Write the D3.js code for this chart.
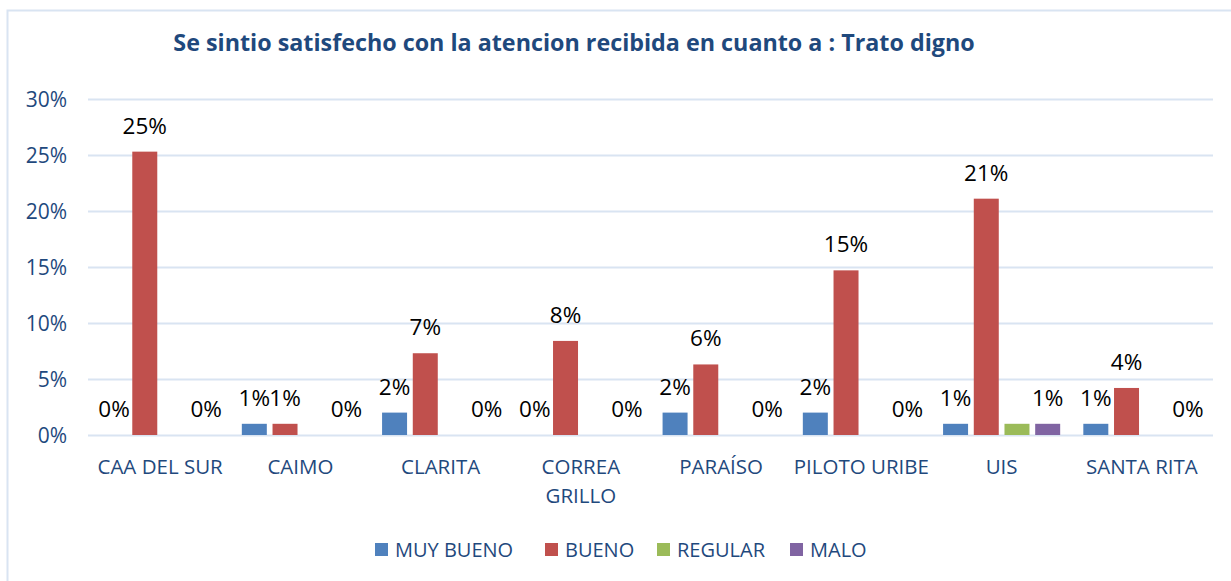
<!DOCTYPE html>
<html lang="es">
<head>
    <meta charset="UTF-8">
    <title>Trato digno</title>
    <script src="https://d3js.org/d3.v7.min.js"></script>
    <style>
        body { margin: 0; background: #fff; }
        text { font-family: "Open Sans", "Noto Sans", sans-serif; }
    </style>
</head>
<body>
<div id="chart"></div>
<script>
    // data (percent)
    const categories = ["CAA DEL SUR", "CAIMO", "CLARITA", "CORREA GRILLO", "PARAÍSO", "PILOTO URIBE", "UIS", "SANTA RITA"];
    const series = ["MUY BUENO", "BUENO", "REGULAR", "MALO"];
    const muyBueno = [0, 1.0, 2.0, 0, 2.0, 2.0, 1.0, 1.0];
    const bueno = [25.3, 1.0, 7.3, 8.4, 6.3, 14.7, 21.1, 4.2];
    const regular = [null, null, null, null, null, null, 1.0, null];
    const malo = [0, 0, 0, 0, 0, 0, 1.0, 0];
    const yTicks = [0, 5, 10, 15, 20, 25, 30];
    // REGULAR has no data labels in the original
    const labelled = ["MUY BUENO", "BUENO", "MALO"];

    const values = [muyBueno, bueno, regular, malo];
    const colors = ["#4F81BD", "#C0504D", "#9BBB59", "#8064A2"];
    const axisBlue = "#1F497D";

    const width = 1231, height = 581;
    const plot = {left: 90, right: 1212, top: 99, bottom: 435};

    const svg = d3.select("#chart").append("svg")
        .attr("width", width)
        .attr("height", height);

    // chart frame
    svg.append("rect")
        .attr("x", 7.5).attr("y", 10.5)
        .attr("width", 1240).attr("height", 600)
        .attr("fill", "none")
        .attr("stroke", "#D9E4F2")
        .attr("stroke-width", 2);

    svg.append("text")
        .attr("x", 574).attr("y", 51)
        .attr("text-anchor", "middle")
        .attr("font-size", 23.3)
        .attr("font-weight", "bold")
        .attr("fill", axisBlue)
        .text("Se sintio satisfecho con la atencion recibida en cuanto a : Trato digno");

    const x0 = d3.scaleBand()
        .domain(categories)
        .range([plot.left, plot.right])
        .padding(0);

    const x1 = d3.scaleBand()
        .domain(series)
        .range([0, x0.bandwidth()])
        .paddingInner(0.186)
        .paddingOuter(0.377);

    const y = d3.scaleLinear()
        .domain([0, 30])
        .range([plot.bottom, plot.top]);

    // gridlines
    svg.append("g")
        .selectAll("line")
        .data(yTicks)
        .enter().append("line")
        .attr("x1", plot.left - 2)
        .attr("x2", plot.right + 1)
        .attr("y1", d => Math.round(y(d)) + 0.5)
        .attr("y2", d => Math.round(y(d)) + 0.5)
        .attr("stroke", "#D9E4F2")
        .attr("stroke-width", 2);

    // y axis labels
    svg.append("g")
        .selectAll("text")
        .data(yTicks)
        .enter().append("text")
        .attr("x", 67)
        .attr("y", d => y(d) + 7.5)
        .attr("text-anchor", "end")
        .attr("font-size", 21)
        .attr("fill", axisBlue)
        .text(d => d + "%");

    const rows = [];
    categories.forEach((c, i) => {
        series.forEach((s, j) => {
            rows.push({cat: c, ser: s, idx: j, v: values[j][i]});
        });
    });

    const bars = rows.filter(d => d.v !== null);

    svg.append("g")
        .selectAll("rect")
        .data(bars)
        .enter().append("rect")
        .attr("x", d => x0(d.cat) + x1(d.ser))
        .attr("width", x1.bandwidth())
        .attr("y", d => y(d.v))
        .attr("height", d => y(0) - y(d.v))
        .attr("fill", d => colors[d.idx]);

    svg.append("g")
        .selectAll("text")
        .data(bars.filter(d => labelled.includes(d.ser)))
        .enter().append("text")
        .attr("x", d => x0(d.cat) + x1(d.ser) + x1.bandwidth() / 2)
        .attr("y", d => y(d.v) - 18)
        .attr("text-anchor", "middle")
        .attr("font-size", 22.5)
        .attr("fill", "#000")
        .text(d => Math.round(d.v) + "%");

    // category labels, wrapped like Excel does
    const catLabels = svg.append("g")
        .selectAll("text")
        .data(categories)
        .enter().append("text")
        .attr("x", d => x0(d) + x0.bandwidth() / 2)
        .attr("y", 474)
        .attr("text-anchor", "middle")
        .attr("font-size", 20.5)
        .attr("fill", axisBlue);

    catLabels.each(function (d) {
        const lines = d === "CORREA GRILLO" ? ["CORREA", "GRILLO"] : [d];
        const t = d3.select(this);
        lines.forEach((ln, k) => {
            t.append("tspan")
                .attr("x", x0(d) + x0.bandwidth() / 2)
                .attr("dy", k === 0 ? 0 : 29)
                .text(ln);
        });
    });

    // legend
    const legendX = [375, 545, 657, 790];
    const legend = svg.append("g")
        .selectAll("g")
        .data(series)
        .enter().append("g")
        .attr("transform", (d, i) => `translate(${legendX[i]},543)`);

    legend.append("rect")
        .attr("width", 13)
        .attr("height", 13)
        .attr("fill", (d, i) => colors[i]);

    legend.append("text")
        .attr("x", 20)
        .attr("y", 14)
        .attr("font-size", 20)
        .attr("fill", axisBlue)
        .text(d => d);
</script>
</body>
</html>
